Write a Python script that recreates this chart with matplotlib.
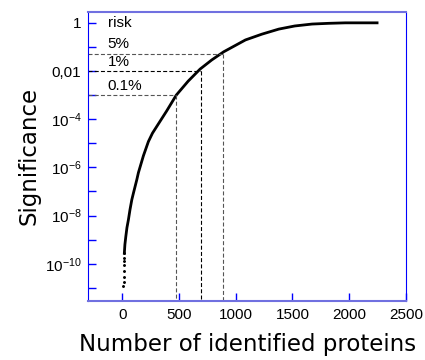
import numpy as np
import matplotlib.pyplot as plt

plt.rcParams['font.family'] = ['Liberation Sans', 'DejaVu Sans']
plt.rcParams['mathtext.fontset'] = 'custom'
plt.rcParams['mathtext.rm'] = 'Liberation Sans'

# sparse points at the low end of the curve (drawn as dots)
dots_x = [9, 10, 11, 12, 12, 13, 15, 17]
dots_exp = [-10.94, -10.75, -10.53, -10.30, -10.04, -9.90, -9.75, -9.56]

# dense part of the curve (drawn as a line)
curve_x = [17, 22, 30, 40, 53, 67, 83, 97, 127, 141, 185, 229, 265, 303, 390, 475,
           580, 685, 788, 894, 1085, 1230, 1379, 1520, 1673, 1820, 1966, 2100, 2246]
curve_exp = [-9.56, -9.20, -8.87, -8.50, -8.17, -7.75, -7.34, -7.07, -6.51, -6.22,
             -5.52, -4.93, -4.58, -4.30, -3.66, -3.00, -2.42, -1.92, -1.54, -1.20,
             -0.71, -0.47, -0.26, -0.13, -0.05, -0.02, 0.0, 0.0, 0.0]

# risk thresholds and number of proteins where the curve crosses them
risk_labels = ['5%', '1%', '0.1%']
risk_levels = [0.05, 0.01, 0.001]
risk_x = [891, 691, 474]
risk_colors = ['#555555', 'black', '#555555']

ytick_exp = np.arange(0, -12, -1)
ytick_labels = ['1', '', '0,01', '', r'$\mathregular{10^{-4}}$', '',
                r'$\mathregular{10^{-6}}$', '', r'$\mathregular{10^{-8}}$', '',
                r'$\mathregular{10^{-10}}$', '']
xticks = [0, 500, 1000, 1500, 2000, 2500]

fig = plt.figure(figsize=(4.25, 3.6), dpi=100)
ax = fig.add_axes([0.208, 0.165, 0.747, 0.803])

ax.plot(dots_x, 10.0 ** np.array(dots_exp), 'k.', markersize=2.2)
ax.plot(curve_x, 10.0 ** np.array(curve_exp), color='black', linewidth=2)

for lvl, xx, col in zip(risk_levels, risk_x, risk_colors):
    ax.plot([-300, xx], [lvl, lvl], color=col, lw=0.8, ls=(0, (3.6, 2)))
    ax.plot([xx, xx], [lvl, 10 ** -11.53], color=col, lw=0.8, ls=(0, (3.6, 2)))

ax.text(-130, 1.0, 'risk', fontsize=11, va='center')
ax.text(-130, 0.13, risk_labels[0], fontsize=11, va='center')
ax.text(-130, 0.023, risk_labels[1], fontsize=11, va='center')
ax.text(-130, 0.0023, risk_labels[2], fontsize=11, va='center')

ax.set_yscale('log')
ax.set_xlim(-300, 2500)
ax.set_ylim(10 ** -11.53, 10 ** 0.47)
ax.set_yticks(10.0 ** ytick_exp)
ax.set_yticklabels(ytick_labels)
ax.yaxis.set_minor_locator(plt.NullLocator())
ax.set_xticks(xticks)

ax.tick_params(direction='in', length=6, width=1, color='blue', labelsize=11, pad=5)
for side in ['left', 'right']:
    ax.spines[side].set_color('blue')
for side in ['top', 'bottom']:
    ax.spines[side].set_color('#7070e0')
    ax.spines[side].set_linewidth(1.5)

ax.set_xlabel('Number of identified proteins', fontsize=16.5, family='DejaVu Sans', labelpad=8)
ax.set_ylabel('Significance', fontsize=16.5, family='DejaVu Sans', labelpad=3)

fig.savefig('out.png', dpi=100)
